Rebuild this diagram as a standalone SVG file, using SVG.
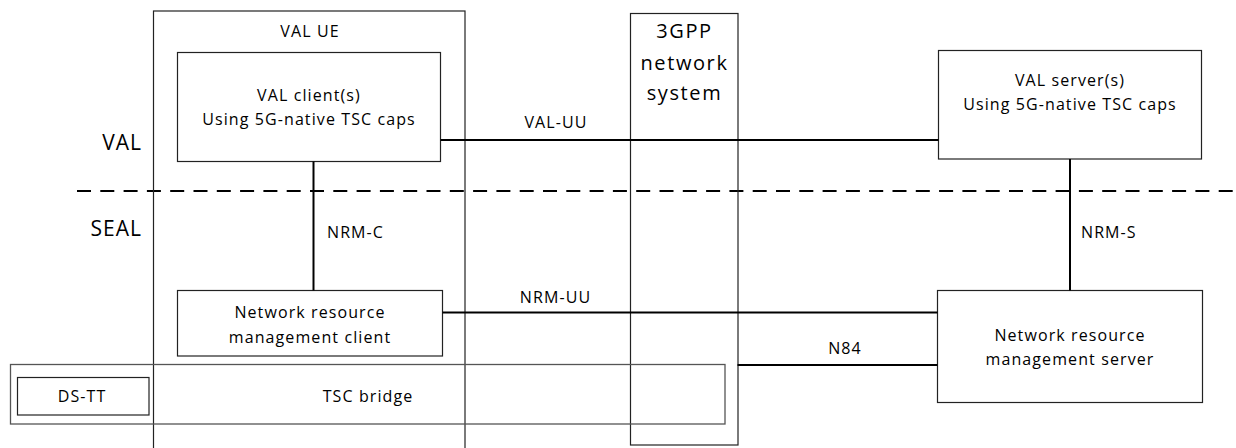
<svg xmlns="http://www.w3.org/2000/svg" width="1236" height="448" viewBox="0 0 1236 448">
<style>
text{font-family:"Open Sans","Liberation Sans",sans-serif;fill:#000;text-anchor:middle}
.t{font-size:16px;letter-spacing:1.1px}
.b{font-size:20px;letter-spacing:1.6px}
.box{fill:none;stroke:#222;stroke-width:1.2}
.grey{fill:none;stroke:#555;stroke-width:1.3}
.c{stroke:#000;stroke-width:2;fill:none}
</style>
<rect width="1236" height="448" fill="#fff"/>
<g id="layers">
<text class="b" x="142" y="150" style="text-anchor:end;font-size:21px;letter-spacing:1px">VAL</text>
<text class="b" x="142" y="236" style="text-anchor:end;font-size:21px;letter-spacing:1px">SEAL</text>
<line x1="77" y1="191" x2="1236" y2="191" stroke="#000" stroke-width="2" stroke-dasharray="14 9.3"/>
</g>
<g id="val-ue">
<rect class="box" x="153.5" y="11" width="311.5" height="450"/>
<text class="t" x="310" y="37">VAL UE</text>
</g>
<g id="network-system">
<rect class="box" x="630.5" y="13.5" width="107.5" height="431.5"/>
<text class="b" x="684.5" y="38">3GPP</text>
<text class="b" x="684.5" y="70">network</text>
<text class="b" x="684.5" y="100">system</text>
</g>
<g id="tsc-bridge">
<rect class="grey" x="10.5" y="364.5" width="714.5" height="59.5"/>
<text class="t" x="368" y="402">TSC bridge</text>
</g>
<g id="ds-tt">
<rect class="box" x="17.5" y="377.5" width="131.5" height="37.5"/>
<text class="t" x="82" y="402">DS-TT</text>
</g>
<g id="val-client">
<rect class="box" x="177.5" y="52.5" width="263" height="109"/>
<text class="t" x="309" y="101">VAL client(s)</text>
<text class="t" x="309" y="125">Using 5G-native TSC caps</text>
</g>
<g id="val-server">
<rect class="box" x="938.5" y="50.5" width="263" height="108.5"/>
<text class="t" x="1070" y="86">VAL server(s)</text>
<text class="t" x="1070" y="110">Using 5G-native TSC caps</text>
</g>
<g id="nrm-client">
<rect class="box" x="177.5" y="290.5" width="265" height="65.5"/>
<text class="t" x="310" y="318">Network resource</text>
<text class="t" x="310" y="342.5">management client</text>
</g>
<g id="nrm-server">
<rect class="box" x="937.5" y="290.5" width="265" height="112"/>
<text class="t" x="1070" y="340.5">Network resource</text>
<text class="t" x="1070" y="365">management server</text>
</g>
<g id="connectors">
<line class="c" x1="440.5" y1="140" x2="938.5" y2="140"/>
<line class="c" x1="313.5" y1="161.5" x2="313.5" y2="290.5"/>
<line class="c" x1="1070" y1="159" x2="1070" y2="290.5"/>
<line class="c" x1="442.5" y1="312.5" x2="937.5" y2="312.5"/>
<line class="c" x1="737.5" y1="365" x2="937.5" y2="365"/>
<text class="t" x="556" y="128">VAL-UU</text>
<text class="t" x="327" y="238" style="text-anchor:start">NRM-C</text>
<text class="t" x="1081" y="238" style="text-anchor:start">NRM-S</text>
<text class="t" x="555.5" y="303">NRM-UU</text>
<text class="t" x="845" y="354">N84</text>
</g>
</svg>
